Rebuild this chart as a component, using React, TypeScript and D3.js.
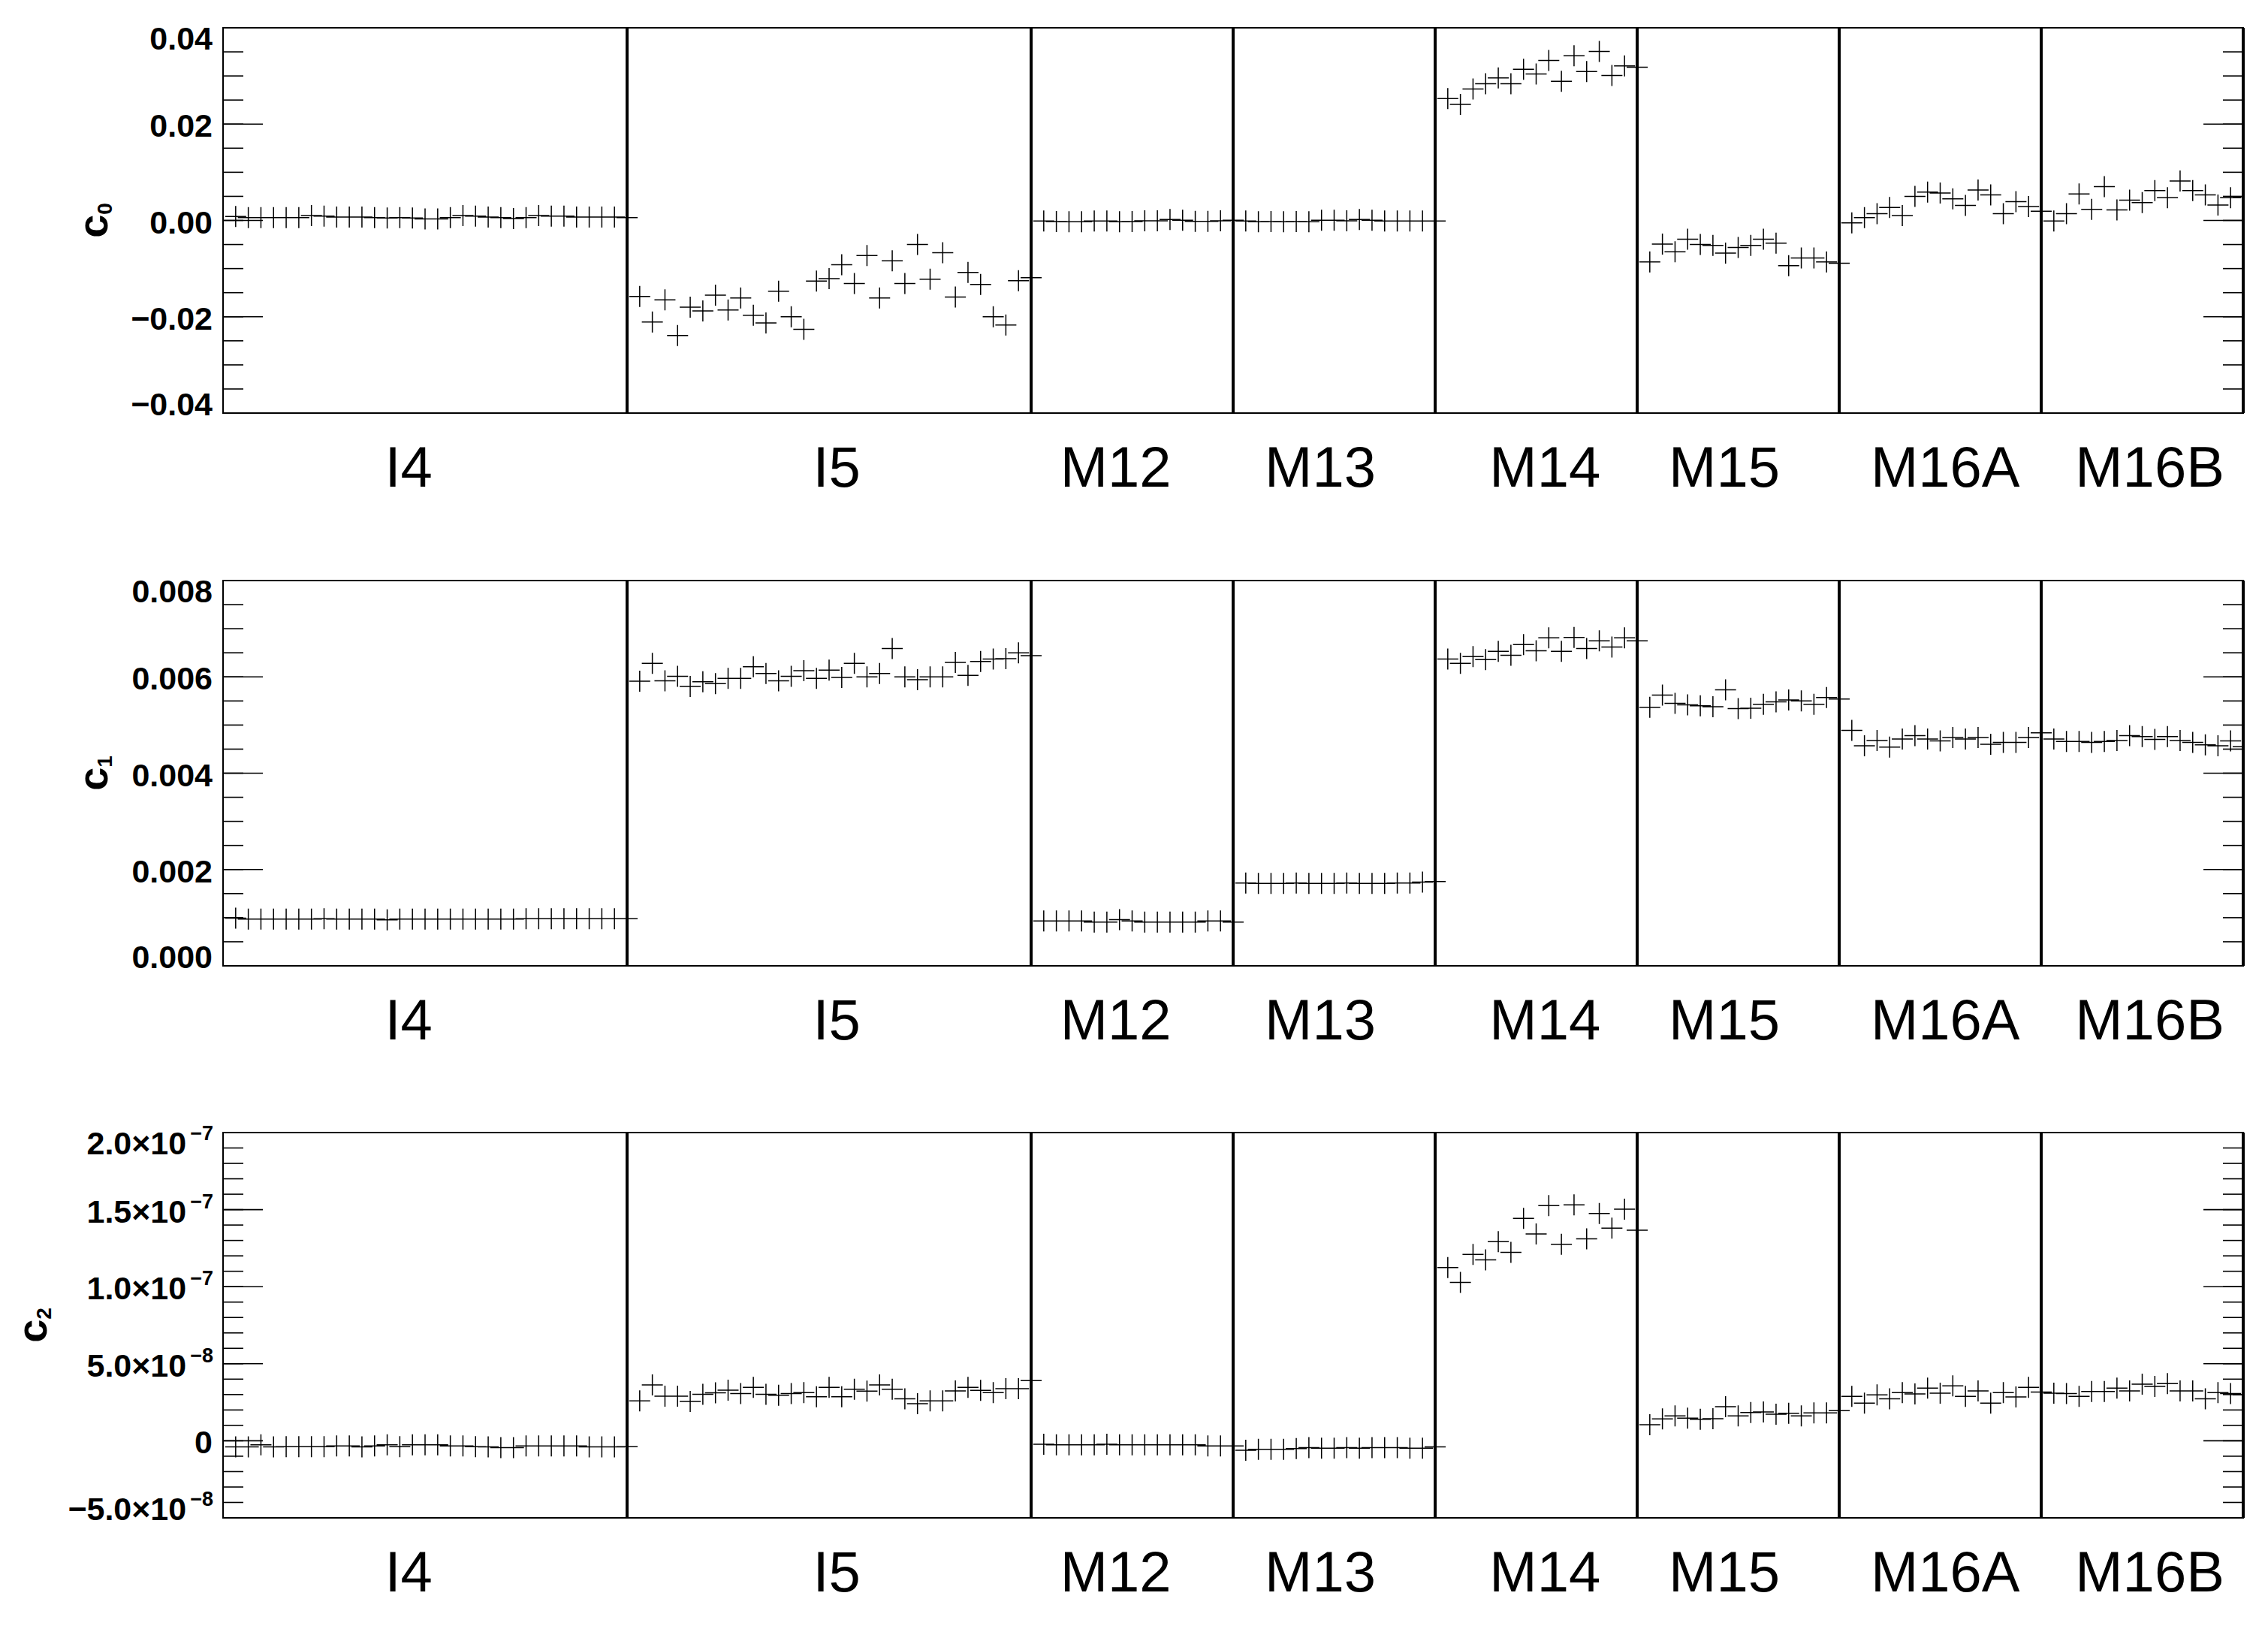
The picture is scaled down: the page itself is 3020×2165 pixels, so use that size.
import React from "react";
import * as d3 from "d3";

// ---------- data ----------
const bands = ["I4", "I5", "M12", "M13", "M14", "M15", "M16A", "M16B"];
const detectorCounts = [32, 32, 16, 16, 16, 16, 16, 16];
// x positions (detector index units) at which the band names are written
const bandLabelTicks = [14.7, 48.6, 70.7, 86.9, 104.7, 118.9, 136.4, 152.6];

// c0
const c0I4 = [0.0008, 0.0006, 0.0006, 0.0006, 0.0006, 0.0006, 0.0010, 0.0009, 0.0007, 0.0007, 0.0007, 0.0006, 0.0005, 0.0006, 0.0005, 0.0003, 0.0003, 0.0006, 0.0010, 0.0009, 0.0007, 0.0006, 0.0004, 0.0006, 0.0010, 0.0009, 0.0009, 0.0007, 0.0007, 0.0007, 0.0007, 0.0006];
const c0I5 = [-0.0158, -0.0211, -0.0165, -0.0239, -0.0180, -0.0188, -0.0155, -0.0186, -0.0161, -0.0197, -0.0213, -0.0147, -0.0200, -0.0226, -0.0126, -0.0121, -0.0092, -0.0131, -0.0073, -0.0161, -0.0084, -0.0131, -0.0050, -0.0122, -0.0067, -0.0159, -0.0108, -0.0133, -0.0200, -0.0217, -0.0125, -0.0119];
const c0M12 = [-0.00013, -0.00023, -0.00029, -0.00029, -0.00013, -0.00013, -0.00029, -0.00023, -0.00008, -0.00008, 0.00018, 0.00003, -0.00018, -0.00018, -0.00008, 0.00003];
const c0M13 = [-0.00013, -0.00029, -0.00023, -0.00029, -0.00023, -0.00029, 0.00003, 0.00003, -0.00008, 0.00018, 0.00003, -0.00013, -0.00013, -0.00013, -0.00013, -0.00013];
const c0M14 = [0.0253, 0.0241, 0.0273, 0.0284, 0.0296, 0.0284, 0.0314, 0.0304, 0.0332, 0.0289, 0.0342, 0.0309, 0.0351, 0.0301, 0.0321, 0.0318];
const c0M15 = [-0.0086, -0.0049, -0.0065, -0.0039, -0.0050, -0.0052, -0.0068, -0.0056, -0.0052, -0.0039, -0.0047, -0.0094, -0.0078, -0.0078, -0.0086, -0.0089];
const c0M16A = [-0.0005, 0.0006, 0.0014, 0.0027, 0.0010, 0.0050, 0.0059, 0.0057, 0.0045, 0.0031, 0.0063, 0.0053, 0.0014, 0.0039, 0.0029, 0.0019];
const c0M16B = [-0.0001, 0.0014, 0.0055, 0.0023, 0.0070, 0.0022, 0.0042, 0.0037, 0.0062, 0.0047, 0.0082, 0.0062, 0.0053, 0.0032, 0.0047, 0.0049];

// c1
const c1I4 = [0.00099, 0.00097, 0.00097, 0.00097, 0.00097, 0.00097, 0.00097, 0.00098, 0.00097, 0.00097, 0.00097, 0.00097, 0.000955, 0.00097, 0.00097, 0.00097, 0.00097, 0.00097, 0.00097, 0.00097, 0.00097, 0.00097, 0.00097, 0.00098, 0.00098, 0.00098, 0.00098, 0.00098, 0.00098, 0.00098, 0.00098, 0.00098];
const c1I5 = [0.00591, 0.00628, 0.00592, 0.00601, 0.00580, 0.00590, 0.00586, 0.00597, 0.00597, 0.00621, 0.00607, 0.00592, 0.00601, 0.00613, 0.00597, 0.00614, 0.00599, 0.00628, 0.00600, 0.00607, 0.00659, 0.00600, 0.00594, 0.00600, 0.00600, 0.00630, 0.00603, 0.00632, 0.00637, 0.00638, 0.00650, 0.00644];
const c1M12 = [0.00093, 0.00093, 0.00093, 0.00093, 0.00091, 0.00091, 0.00096, 0.00093, 0.00091, 0.00091, 0.00091, 0.00091, 0.00091, 0.00093, 0.00093, 0.00091];
const c1M13 = [0.00172, 0.00171, 0.00171, 0.00171, 0.00172, 0.00171, 0.00171, 0.00171, 0.00172, 0.00171, 0.00171, 0.00171, 0.00172, 0.00172, 0.00174, 0.00175];
const c1M14 = [0.00637, 0.00628, 0.00642, 0.00636, 0.00653, 0.00645, 0.00667, 0.00654, 0.00681, 0.00653, 0.00682, 0.00659, 0.00675, 0.00662, 0.00681, 0.00675];
const c1M15 = [0.00537, 0.00562, 0.00545, 0.00542, 0.00540, 0.00538, 0.00573, 0.00534, 0.00535, 0.00543, 0.00548, 0.00552, 0.00550, 0.00543, 0.00557, 0.00554];
const c1M16A = [0.00489, 0.00457, 0.00468, 0.00454, 0.00471, 0.00478, 0.00471, 0.00467, 0.00474, 0.00471, 0.00474, 0.00460, 0.00464, 0.00464, 0.00474, 0.00484];
const c1M16B = [0.00471, 0.00466, 0.00466, 0.00464, 0.00466, 0.00468, 0.00478, 0.00476, 0.00470, 0.00476, 0.00468, 0.00464, 0.00459, 0.00457, 0.00467, 0.00455];

// c2
const c2I4 = [-0.40e-8, -0.40e-8, -0.26e-8, -0.40e-8, -0.38e-8, -0.38e-8, -0.38e-8, -0.38e-8, -0.33e-8, -0.33e-8, -0.40e-8, -0.33e-8, -0.26e-8, -0.38e-8, -0.26e-8, -0.26e-8, -0.26e-8, -0.33e-8, -0.33e-8, -0.38e-8, -0.40e-8, -0.44e-8, -0.44e-8, -0.33e-8, -0.33e-8, -0.33e-8, -0.33e-8, -0.33e-8, -0.40e-8, -0.40e-8, -0.40e-8, -0.38e-8];
const c2I5 = [2.59e-8, 3.62e-8, 2.89e-8, 2.89e-8, 2.55e-8, 3.02e-8, 3.11e-8, 3.29e-8, 3.06e-8, 3.47e-8, 3.02e-8, 2.95e-8, 3.06e-8, 3.13e-8, 2.86e-8, 3.47e-8, 2.86e-8, 3.35e-8, 3.22e-8, 3.62e-8, 3.35e-8, 2.73e-8, 2.41e-8, 2.59e-8, 2.59e-8, 3.24e-8, 3.47e-8, 3.27e-8, 3.13e-8, 3.38e-8, 3.38e-8, 3.90e-8];
const c2M12 = [-0.22e-8, -0.26e-8, -0.26e-8, -0.26e-8, -0.26e-8, -0.22e-8, -0.26e-8, -0.26e-8, -0.26e-8, -0.26e-8, -0.26e-8, -0.26e-8, -0.26e-8, -0.33e-8, -0.33e-8, -0.33e-8];
const c2M13 = [-0.62e-8, -0.55e-8, -0.55e-8, -0.55e-8, -0.50e-8, -0.44e-8, -0.48e-8, -0.48e-8, -0.44e-8, -0.48e-8, -0.44e-8, -0.44e-8, -0.44e-8, -0.48e-8, -0.48e-8, -0.40e-8];
const c2M14 = [11.24e-8, 10.28e-8, 12.09e-8, 11.74e-8, 12.92e-8, 12.23e-8, 14.43e-8, 13.42e-8, 15.26e-8, 12.75e-8, 15.31e-8, 13.11e-8, 14.75e-8, 13.80e-8, 15.03e-8, 13.66e-8];
const c2M15 = [1.04e-8, 1.42e-8, 1.61e-8, 1.47e-8, 1.40e-8, 1.43e-8, 2.21e-8, 1.61e-8, 1.83e-8, 1.87e-8, 1.72e-8, 1.79e-8, 1.61e-8, 1.81e-8, 1.81e-8, 1.96e-8];
const c2M16A = [2.88e-8, 2.44e-8, 2.98e-8, 2.73e-8, 3.13e-8, 3.04e-8, 3.42e-8, 3.09e-8, 3.56e-8, 2.88e-8, 3.24e-8, 2.44e-8, 3.13e-8, 2.84e-8, 3.47e-8, 3.16e-8];
const c2M16B = [3.09e-8, 3.07e-8, 2.88e-8, 3.20e-8, 3.20e-8, 3.42e-8, 3.24e-8, 3.67e-8, 3.53e-8, 3.71e-8, 3.24e-8, 3.24e-8, 2.73e-8, 3.13e-8, 3.06e-8, 2.98e-8];

const c0Series = [c0I4, c0I5, c0M12, c0M13, c0M14, c0M15, c0M16A, c0M16B];
const c1Series = [c1I4, c1I5, c1M12, c1M13, c1M14, c1M15, c1M16A, c1M16B];
const c2Series = [c2I4, c2I5, c2M12, c2M13, c2M14, c2M15, c2M16A, c2M16B];

// y axes
const c0Domain = [-0.04, 0.04];
const c0Majors = [-0.04, -0.02, 0, 0.02, 0.04];
const c0TickMain = ["\u22120.04", "\u22120.02", "0.00", "0.02", "0.04"];
const c0TickSup = ["", "", "", "", ""];
const c0MinorStep = 0.005;

const c1Domain = [0, 0.008];
const c1Majors = [0, 0.002, 0.004, 0.006, 0.008];
const c1TickMain = ["0.000", "0.002", "0.004", "0.006", "0.008"];
const c1TickSup = ["", "", "", "", ""];
const c1MinorStep = 0.0005;

const c2Domain = [-5e-8, 2e-7];
const c2Majors = [-5e-8, 0, 5e-8, 1e-7, 1.5e-7, 2e-7];
const c2TickMain = ["\u22125.0\u00d710", "0", "5.0\u00d710", "1.0\u00d710", "1.5\u00d710", "2.0\u00d710"];
const c2TickSup = ["\u22128", "", "\u22128", "\u22127", "\u22127", "\u22127"];
const c2MinorStep = 1e-8;

// ---------- layout ----------
const W = 3020;
const H = 2165;
const LEFT = 297;
const RIGHT = 2987;
const PH = 513;
const FONT = "'Liberation Sans', Arial, Helvetica, sans-serif";

const panels = [
  { top: 37, domain: c0Domain, majors: c0Majors, main: c0TickMain, sup: c0TickSup, minor: c0MinorStep, series: c0Series, sub: "0", titleX: 143 },
  { top: 773, domain: c1Domain, majors: c1Majors, main: c1TickMain, sup: c1TickSup, minor: c1MinorStep, series: c1Series, sub: "1", titleX: 143 },
  { top: 1508, domain: c2Domain, majors: c2Majors, main: c2TickMain, sup: c2TickSup, minor: c2MinorStep, series: c2Series, sub: "2", titleX: 62 },
];

const bandStarts = detectorCounts.map((_, i) => d3.sum(detectorCounts.slice(0, i)));
const bandEnds = detectorCounts.map((n, i) => bandStarts[i] + n);
const total = d3.sum(detectorCounts);

function Panel({ p, idx }: { p: any; idx: number }) {
  const x = d3.scaleLinear().domain([0, total]).range([LEFT, RIGHT]);
  const bottom = p.top + PH;
  const y = d3.scaleLinear().domain(p.domain).range([bottom, p.top]);
  const [lo, hi] = p.domain;
  const minors = d3.range(0, Math.round((hi - lo) / p.minor) + 1).map((k) => lo + k * p.minor);
  const clipId = `clip${idx}`;
  const ARM = 14;

  const marks: string[] = [];
  p.series.forEach((vals: number[], b: number) => {
    vals.forEach((v, j) => {
      const cx = x(bandStarts[b] + j + 1);
      const cy = y(v);
      marks.push(`M${cx - ARM},${cy}H${cx + ARM}M${cx},${cy - ARM}V${cy + ARM}`);
    });
  });

  const yMid = (p.top + bottom) / 2;

  return (
    <g>
      <defs>
        <clipPath id={clipId}>
          <rect x={LEFT} y={p.top} width={RIGHT - LEFT} height={PH} />
        </clipPath>
      </defs>
      {/* minor ticks */}
      {minors.map((t: number, i: number) => (
        <g key={"mi" + i}>
          <line x1={LEFT} x2={LEFT + 27} y1={y(t)} y2={y(t)} stroke="#000" strokeWidth={1.6} />
          <line x1={RIGHT} x2={RIGHT - 27} y1={y(t)} y2={y(t)} stroke="#000" strokeWidth={1.6} />
        </g>
      ))}
      {/* major ticks + labels */}
      {p.majors.map((t: number, i: number) => {
        const isTop = Math.abs(t - hi) < 1e-12;
        const isBot = Math.abs(t - lo) < 1e-12;
        const dy = isTop ? 14 : isBot ? -12 : 2;
        return (
          <g key={"ma" + i}>
            <line x1={LEFT} x2={LEFT + 53} y1={y(t)} y2={y(t)} stroke="#000" strokeWidth={1.6} />
            <line x1={RIGHT} x2={RIGHT - 53} y1={y(t)} y2={y(t)} stroke="#000" strokeWidth={1.6} />
            <text
              x={p.sup[i] ? 284 : 283}
              y={y(t) + dy + 15}
              textAnchor="end"
              fontFamily={FONT}
              fontWeight="bold"
              fontSize={43}
              fill="#000"
            >
              {p.main[i]}
              {p.sup[i] ? (
                <tspan fontSize={27} dx={5} dy={-19}>
                  {p.sup[i]}
                </tspan>
              ) : null}
            </text>
          </g>
        );
      })}
      {/* separators */}
      {bandEnds.map((e, i) => (
        <line key={"s" + i} x1={x(e)} x2={x(e)} y1={p.top} y2={bottom} stroke="#000" strokeWidth={4} />
      ))}
      {/* frame */}
      <rect x={LEFT} y={p.top} width={RIGHT - LEFT} height={PH} fill="none" stroke="#000" strokeWidth={2} />
      {/* data */}
      <path d={marks.join("")} stroke="#000" strokeWidth={1.5} fill="none" clipPath={`url(#${clipId})`} />
      {/* band labels */}
      {bands.map((b, i) => (
        <text
          key={"b" + i}
          x={x(bandLabelTicks[i])}
          y={bottom + 98}
          textAnchor="middle"
          fontFamily={FONT}
          fontSize={76}
          fill="#000"
        >
          {b}
        </text>
      ))}
      {/* y title */}
      <text
        transform={`translate(${p.titleX},${yMid}) rotate(-90)`}
        textAnchor="middle"
        fontFamily={FONT}
        fontWeight="bold"
        fontSize={56}
        fill="#000"
      >
        c
        <tspan fontSize={28} dy={6}>
          {p.sub}
        </tspan>
      </text>
    </g>
  );
}

export default function App() {
  return (
    <svg
      width={W}
      height={H}
      viewBox={`0 0 ${W} ${H}`}
      style={{ position: "absolute", left: 0, top: 0, background: "#fff" }}
    >
      <rect x={0} y={0} width={W} height={H} fill="#fff" />
      {panels.map((p, i) => (
        <Panel key={i} p={p} idx={i} />
      ))}
    </svg>
  );
}
